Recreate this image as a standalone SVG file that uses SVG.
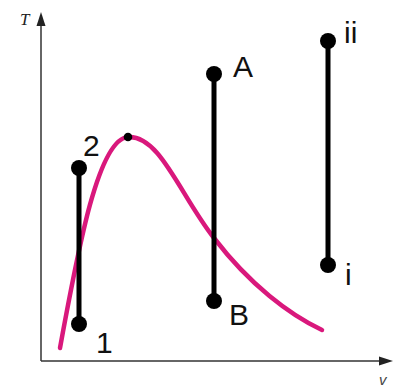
<svg xmlns="http://www.w3.org/2000/svg" width="400" height="387" viewBox="0 0 400 387">
<defs>
<style>
.ax{stroke:#333;stroke-width:1.5;fill:none}
.ah{fill:#222}
.seg{stroke:#000;stroke-width:5;stroke-linecap:butt}
.dot{fill:#000}
.lbl{font-family:"Liberation Sans",Arial,sans-serif;font-size:30px;fill:#111}
.curve{stroke:#d9187c;stroke-width:4.5;fill:none;stroke-linecap:round}
</style>
</defs>
<rect width="400" height="387" fill="#fff"/>
<g id="axes">
<line class="ax" x1="41" y1="361" x2="41" y2="22"/>
<polygon class="ah" points="41,12 36.5,26 45.5,26"/>
<line class="ax" x1="41" y1="361" x2="383" y2="361"/>
<polygon class="ah" points="393,361 379,356.5 379,365.5"/>
<text x="20" y="25" font-family="'Liberation Serif','Times New Roman',serif" font-style="italic" font-size="17" fill="#222">T</text>
<text x="379" y="385" font-family="'Liberation Sans',Arial,sans-serif" font-style="italic" font-size="15" fill="#444">v</text>
</g>
<g id="curve">
<path class="curve" d="M60,348 C78,250 98,139 128,137 C160,135 180,195 214,238 C250,285 290,315 322,330"/>
<circle class="dot" cx="128" cy="137" r="4.3"/>
</g>
<g id="connectors">
<line class="seg" x1="79" y1="168" x2="79" y2="324"/>
<line class="seg" x1="214" y1="74" x2="214" y2="301"/>
<line class="seg" x1="328" y1="41" x2="328" y2="265"/>
</g>
<g id="node-1"><circle class="dot" cx="79" cy="324" r="8"/><text class="lbl" x="96" y="353">1</text></g>
<g id="node-2"><circle class="dot" cx="79" cy="168" r="8"/><text class="lbl" x="83" y="156">2</text></g>
<g id="node-A"><circle class="dot" cx="214" cy="74" r="8"/><text class="lbl" x="233" y="77">A</text></g>
<g id="node-B"><circle class="dot" cx="214" cy="301" r="8"/><text class="lbl" x="229" y="325">B</text></g>
<g id="node-ii"><circle class="dot" cx="328" cy="41" r="8"/><text class="lbl" x="344" y="43">ii</text></g>
<g id="node-i"><circle class="dot" cx="328" cy="265" r="8"/><text class="lbl" x="345" y="285">i</text></g>
</svg>
